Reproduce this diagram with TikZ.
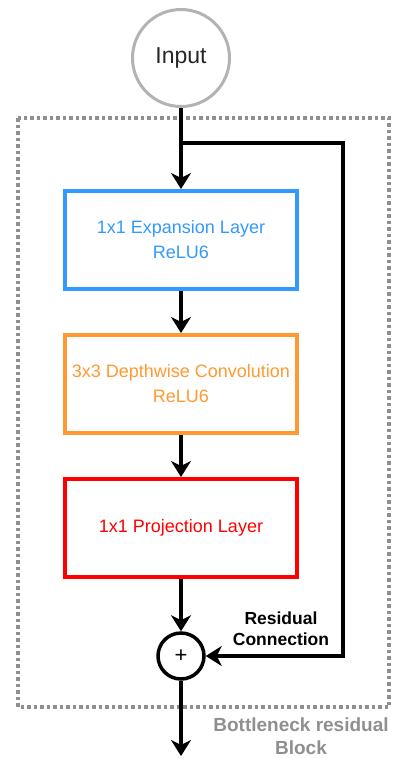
\documentclass[tikz,border=0pt]{standalone}
\usepackage{fontspec}
\setmainfont{Liberation Sans}
\usetikzlibrary{arrows.meta}
\definecolor{blk}{HTML}{3399FF}
\definecolor{org}{HTML}{FF9933}
\definecolor{rdd}{HTML}{FF0000}
\definecolor{grayln}{HTML}{B3B3B3}
\definecolor{grdot}{HTML}{8F8F8F}
\begin{document}
\begin{tikzpicture}[x=1pt,y=-1pt,
  layerbox/.style={draw,line width=4pt,minimum width=232pt,minimum height=98pt,
    align=center,font=\fontsize{18pt}{25pt}\selectfont},
  arr/.style={line width=4pt,-{Stealth[length=16pt,width=20pt,inset=5pt]}},
  conn/.style={line width=4pt}]
\useasboundingbox (0,0) rectangle (392,758);
% block outline
\draw[grdot,line width=3.5pt,dash pattern=on 3.5pt off 3pt] (18,118) rectangle (389,707);
% input
\node[circle,draw=grayln,line width=3pt,minimum size=97pt,inner sep=0pt,
  font=\fontsize{23pt}{27pt}\selectfont,text=black!85] (in) at (181,58) {Input};
% layers
\node[layerbox,draw=blk,text=blk] (exp) at (181,240) {1x1 Expansion Layer\\ReLU6};
\node[layerbox,draw=org,text=org] (dw) at (181,384) {3x3 Depthwise Convolution\\ReLU6};
\node[layerbox,draw=rdd,text=rdd] (proj) at (181,528) {1x1 Projection Layer};
% sum node
\node[circle,draw,line width=3.5pt,minimum size=46pt,inner sep=0pt,
  font=\fontsize{22pt}{24pt}\selectfont] (plus) at (181,656) {+};
% main path
\draw[arr] (in) -- (exp);
\draw[arr] (exp) -- (dw);
\draw[arr] (dw) -- (proj);
\draw[arr] (proj) -- (plus);
\coordinate (out) at (181,756);
\draw[arr] (plus) -- (out);
% skip connection
\coordinate (br) at (181,143);
\coordinate (rc) at (343,143);
\draw[arr] (br) -- (rc) |- (plus.east);
% labels
\node[font=\bfseries\fontsize{17.5pt}{21pt}\selectfont,align=center] (rl) at (281,629) {Residual\\Connection};
\node[font=\bfseries\fontsize{19pt}{23pt}\selectfont,align=center,text=grdot] (bl) at (301,736) {Bottleneck residual\\Block};
\end{tikzpicture}
\end{document}
